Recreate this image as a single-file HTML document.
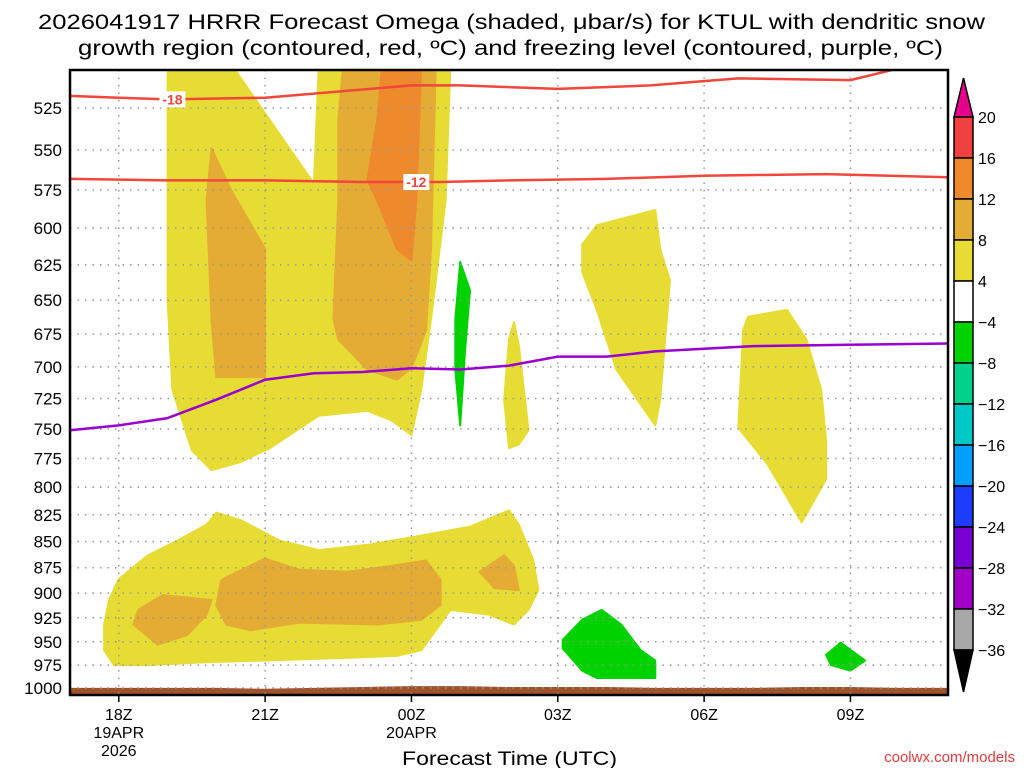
<!DOCTYPE html>
<html><head><meta charset="utf-8"><style>
body{margin:0;background:#fff;width:1024px;height:768px;overflow:hidden;font-family:"Liberation Sans",sans-serif}
svg text{font-family:"Liberation Sans","DejaVu Sans",sans-serif}
</style></head><body>
<svg id="chart" width="1024" height="768" xmlns="http://www.w3.org/2000/svg">
<text x="38" y="29" font-size="21" textLength="947" lengthAdjust="spacingAndGlyphs" fill="#000">2026041917 HRRR Forecast Omega (shaded, μbar/s) for KTUL with dendritic snow</text>
<text x="78" y="55" font-size="21" textLength="865" lengthAdjust="spacingAndGlyphs" fill="#000">growth region (contoured, red, ºC) and freezing level (contoured, purple, ºC)</text>
<defs><clipPath id="plotclip"><rect x="70" y="70" width="878" height="625"/></clipPath></defs>
<g id="plot" clip-path="url(#plotclip)"></g>
<g id="axes"></g>
<g id="cbar"></g>
<text x="402" y="765" font-size="19" textLength="215" lengthAdjust="spacingAndGlyphs">Forecast Time (UTC)</text>
<text x="1015" y="762" font-size="15" text-anchor="end" fill="#e03c3c">coolwx.com/models</text>
</svg>
<script>
const pLevels=[525,550,575,600,625,650,675,700,725,750,775,800,825,850,875,900,925,950,975,1000];
const xTickHours=[18,21,24,27,30,33];
const xTickLabels=[["18Z","19APR","2026"],["21Z"],["00Z","20APR"],["03Z"],["06Z"],["09Z"]];
const cbLevels=[20,16,12,8,4,-4,-8,-12,-16,-20,-24,-28,-32,-36];
const cbColors=["#f04040","#ee8a2c","#e4ac34","#e6dc34","#ffffff","#00d200","#00d28c","#00c8c8","#00a0ff","#1e3cff","#7800d2","#a000c8","#a8a8a8"];
// filled contour regions: [hour, pressure]
const shadeYellowUpper=[[19.0,500],[20.3,500],[22.0,571],[22.1,500],[24.8,500],[24.7,582],[24.4,664],[24.2,718],[24.0,755],[23.6,743],[23.1,735],[22.1,739],[21.1,766],[20.5,778],[19.9,785],[19.5,768],[19.1,718],[19.0,650]];
const shadeOrangeLeft=[[19.9,549],[20.3,575],[21.0,614],[21.0,708],[20.0,708],[19.9,664],[19.8,582]];
const shadeOrangeMid=[[22.6,500],[24.5,500],[24.4,614],[24.3,672],[24.0,701],[23.7,710],[23.1,702],[22.5,679],[22.4,664],[22.5,582],[22.5,532]];
const shadeDarkOrange=[[23.4,500],[24.2,500],[24.1,582],[24.0,622],[23.7,614],[23.3,582],[23.1,569],[23.3,532]];
const shadeGreenNarrow=[[25.0,623],[25.2,643],[25.1,687],[25.0,747],[24.9,702],[24.9,664]];
const shadeYellowSmall=[[26.1,666],[26.2,683],[26.4,751],[26.2,763],[26.0,766],[25.9,726],[26.0,679]];
const shadeYellow03Z=[[27.8,598],[29.0,588],[29.1,614],[29.3,636],[29.1,726],[29.0,747],[28.2,702],[27.8,657],[27.5,630],[27.5,611]];
const shadeYellow08Z=[[30.9,662],[31.7,657],[32.1,679],[32.4,718],[32.5,759],[32.5,793],[32.0,832],[31.3,780],[30.7,749],[30.8,672]];
const shadeYellowLower=[[18.0,886],[18.6,863],[19.2,849],[19.8,834],[20.0,823],[20.5,830],[21.3,849],[22.1,858],[23.1,853],[24.0,846],[25.2,836],[26.0,821],[26.2,834],[26.5,868],[26.6,897],[26.4,917],[26.1,932],[25.6,922],[24.8,917],[24.5,938],[24.2,959],[23.7,965],[22.7,967],[21.0,970],[19.7,972],[18.6,975],[17.9,975],[17.7,959],[17.7,932],[17.8,907]];
const shadeOrangeLower=[[20.1,887],[21.0,866],[21.7,877],[22.7,879],[23.6,873],[24.3,868],[24.6,887],[24.6,912],[24.2,927],[23.3,932],[21.7,930],[20.7,938],[20.2,932],[20.0,912]];
const shadeOrangeLowerLeft=[[18.4,917],[18.9,902],[19.9,907],[19.8,922],[19.4,943],[18.8,953],[18.3,932]];
const shadeOrangeLowerRight=[[25.4,879],[25.9,863],[26.1,873],[26.2,897],[25.7,895]];
const shadeGreenLow=[[27.1,948],[27.5,927],[27.9,917],[28.3,932],[28.7,959],[29.0,970],[29.0,989],[27.8,989],[27.5,981],[27.1,957]];
const shadeGreenSmall=[[32.5,964],[32.8,951],[33.3,970],[33.0,981],[32.6,975]];
// contour lines
const lineHours18=[17,18,19,21,22.3,24,25,27,28.9,30.7,33,34.2,35];
const linePres18=[518,519,520,519,516,512,512,514,512,508,509,501,495];
const lineHours12=[17,19,21,23,24.6,26,28,30,32.5,35];
const linePres12=[568,569,569,570,570,569,568,566,565,567];
const lineHours0=[17,18,19,20,21,22,23,24,25,26,27,28,29,31,33,35];
const linePres0=[751,747,741,726,710,705,704,701,702,699,692,692,688,684,683,682];
const groundHours=[17,18,19,20,21,22,23,24,25,26,27,28,29,30,31,32,33,34,35];
const groundPres=[1000,1000,1000,1000,1001,1000,999,998,998,999,999,999,1000,1000,1000,999,999,1000,1000];

const X0=70,X1=948,Y0=70,Y1=695,H0=17,H1=35;
const xs=h=>X0+(h-H0)*(X1-X0)/(H1-H0);
const ys=p=>108+900*Math.log(p/525);
const NS="http://www.w3.org/2000/svg";
function mk(tag,attrs,parent){const e=document.createElementNS(NS,tag);for(const k in attrs)e.setAttribute(k,attrs[k]);parent.appendChild(e);return e;}
const plot=document.getElementById('plot'),axes=document.getElementById('axes'),cbar=document.getElementById('cbar');
function poly(pts,fill,name){
  const e=mk('polygon',{points:pts.map(d=>xs(d[0]).toFixed(1)+','+ys(d[1]).toFixed(1)).join(' '),fill:fill,stroke:fill,'stroke-width':2,'stroke-linejoin':'round'},plot);
  
  
}
const Y="#e6dc34",O="#e4ac34",DO="#ee8a2c",G="#00d200";
poly(shadeYellowUpper,Y,'shade-yellow-upper');
poly(shadeOrangeLeft,O,'shade-orange-left');
poly(shadeOrangeMid,O,'shade-orange-mid');
poly(shadeDarkOrange,DO,'shade-dark-orange');
poly(shadeGreenNarrow,G,'shade-green-narrow');
poly(shadeYellowSmall,Y,'shade-yellow-small');
poly(shadeYellow03Z,Y,'shade-yellow-03z');
poly(shadeYellow08Z,Y,'shade-yellow-08z');
poly(shadeYellowLower,Y,'shade-yellow-lower');
poly(shadeOrangeLower,O,'shade-orange-lower');
poly(shadeOrangeLowerLeft,O,'shade-orange-lower-left');
poly(shadeOrangeLowerRight,O,'shade-orange-lower-right');
poly(shadeGreenLow,G,'shade-green-low');
poly(shadeGreenSmall,G,'shade-green-small');
// ground
{const pts=groundHours.map((h,i)=>xs(h).toFixed(1)+','+ys(groundPres[i]).toFixed(1));
const e=mk('polygon',{points:xs(H0)+','+Y1+' '+pts.join(' ')+' '+xs(H1)+','+Y1,fill:'#a0522d'},plot);

}
// grid
pLevels.forEach(p=>{const e=mk('line',{x1:X0,x2:X1,y1:ys(p),y2:ys(p),stroke:'#999','stroke-width':1.5,'stroke-dasharray':'1.5 6'},plot);

});
xTickHours.forEach(h=>{const e=mk('line',{x1:xs(h),x2:xs(h),y1:Y0,y2:Y1,stroke:'#999','stroke-width':1.5,'stroke-dasharray':'1.5 6'},plot);

});
function line(hs,ps,color,name){
  const e=mk('polyline',{points:hs.map((h,i)=>xs(h).toFixed(1)+','+ys(ps[i]).toFixed(1)).join(' '),fill:'none',stroke:color,'stroke-width':2.5,'stroke-linejoin':'round'},plot);
  
  
}
line(lineHours18,linePres18,'#f0463c','contour-minus18');
line(lineHours12,linePres12,'#f0463c','contour-minus12');
line(lineHours0,linePres0,'#9a00d0','contour-freezing');
function clab(h,p,t,name){
  mk('rect',{x:xs(h)-13,y:ys(p)-8,width:26,height:16,fill:'#fff'},plot);
  const e=mk('text',{x:xs(h),y:ys(p)+5,'font-size':14,'font-weight':'bold','text-anchor':'middle',fill:'#f0463c'},plot);
  e.textContent=t;
  
  
}
clab(19.1,520,'-18','contour-label-minus18');
clab(24.1,570,'-12','contour-label-minus12');
// frame
{const e=mk('rect',{x:X0,y:Y0,width:X1-X0,height:Y1-Y0,fill:'none',stroke:'#000','stroke-width':2.5},axes);

}
pLevels.forEach(p=>{
  const t=mk('text',{x:62,y:ys(p)+6,'font-size':17,'text-anchor':'end'},axes);t.textContent=p;
  
  
});
xTickHours.forEach((h,i)=>{
  mk('line',{x1:xs(h),x2:xs(h),y1:Y1,y2:Y1+7,stroke:'#000','stroke-width':1.5},axes);
  xTickLabels[i].forEach((s,j)=>{
    const t=mk('text',{x:xs(h),y:Y1+25+j*18,'font-size':16,'text-anchor':'middle'},axes);t.textContent=s;
    
    
  });
});
// colorbar
const CBX=954,CBW=19,CBT=117,CBS=(650-117)/13;
const cy=v=>CBT+(cbLevels.indexOf(v))*CBS;
{const e=mk('polygon',{points:`${CBX},${CBT} ${CBX+CBW/2},78 ${CBX+CBW},${CBT}`,fill:'#e6008c',stroke:'#000','stroke-width':1.5},cbar);

}
cbColors.forEach((c,i)=>{
  const e=mk('rect',{x:CBX,y:cy(cbLevels[i]),width:CBW,height:CBS,fill:c,stroke:'#000','stroke-width':1.5},cbar);
  
  
});
{const e=mk('polygon',{points:`${CBX},650 ${CBX+CBW/2},692 ${CBX+CBW},650`,fill:'#000',stroke:'#000','stroke-width':1.5},cbar);

}
cbLevels.forEach(v=>{
  const t=mk('text',{x:978,y:cy(v)+6,'font-size':16},cbar);t.textContent=v<0?'\u2212'+(-v):v;
  
  
});
</script>
</body></html>
